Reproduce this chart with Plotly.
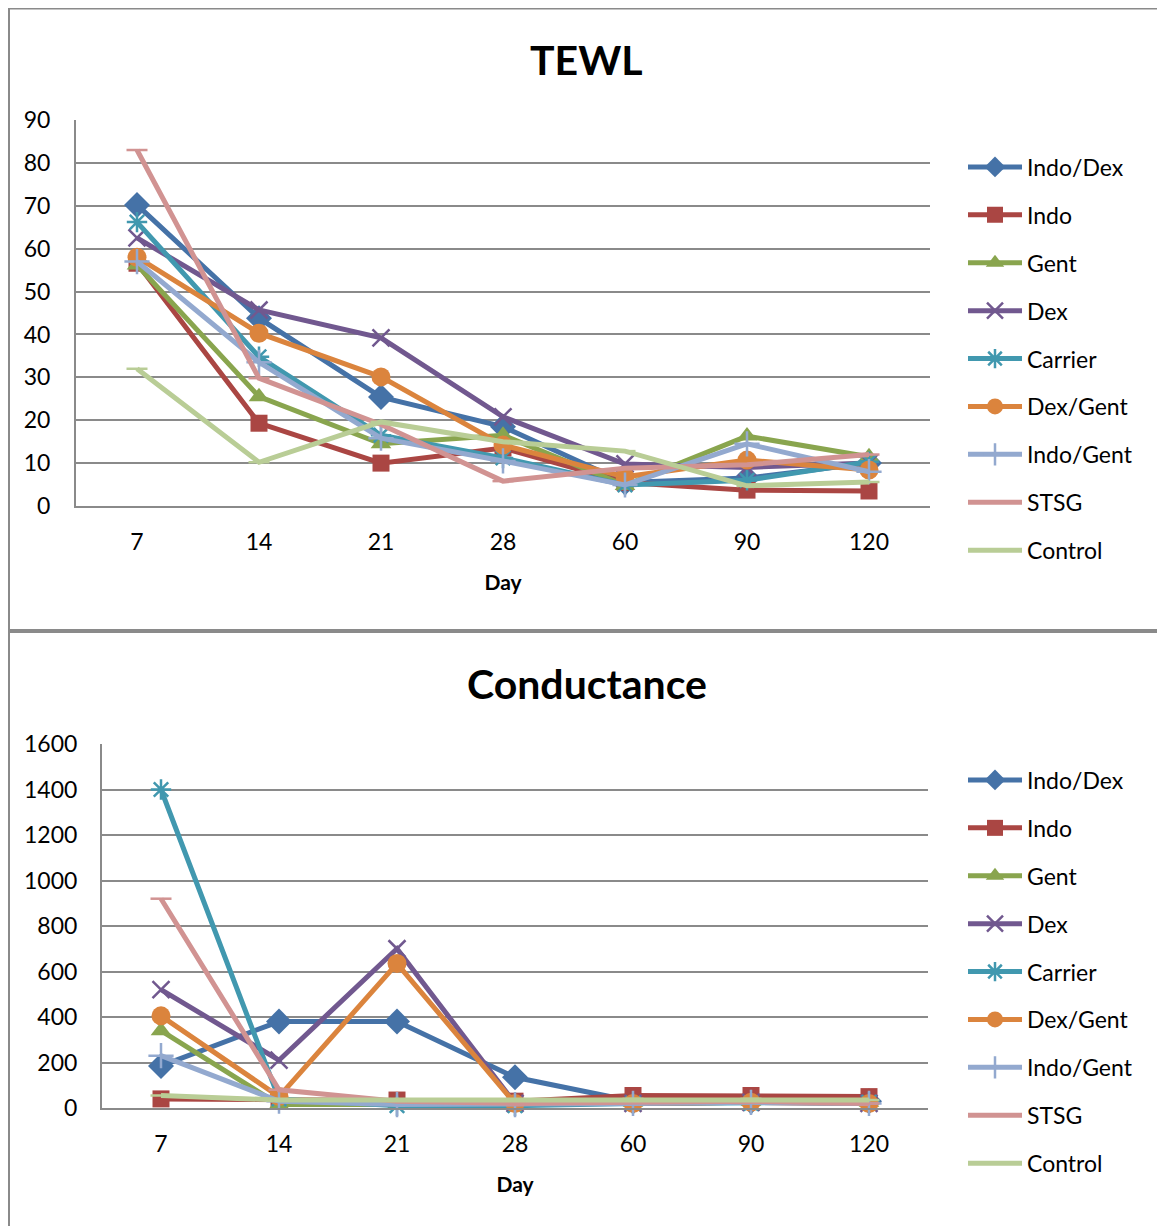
import plotly.graph_objects as go

days = ["7", "14", "21", "28", "60", "90", "120"]
series_names = ["Indo/Dex", "Indo", "Gent", "Dex", "Carrier", "Dex/Gent", "Indo/Gent", "STSG", "Control"]

# TEWL values
tewl_indo_dex = [70.2, 43.8, 25.4, 18.5, 5.5, 6.5, 10.0]
tewl_indo = [56.6, 19.3, 10.0, 13.5, 5.5, 3.7, 3.5]
tewl_gent = [56.2, 25.5, 14.5, 16.5, 4.8, 16.3, 11.5]
tewl_dex = [62.5, 45.7, 39.2, 20.8, 9.8, 9.0, 10.0]
tewl_carrier = [66.2, 34.8, 16.5, 11.2, 4.9, 6.0, 10.3]
tewl_dex_gent = [58.0, 40.3, 30.1, 14.2, 6.8, 10.7, 8.4]
tewl_indo_gent = [57.0, 33.5, 15.8, 10.5, 4.9, 14.5, 8.0]
tewl_stsg = [83.0, 29.8, 19.0, 5.8, 8.8, 9.6, 12.0]
tewl_control = [32.0, 10.2, 19.6, 15.0, 12.8, 4.7, 5.6]

# Conductance values
cond_indo_dex = [185, 380, 380, 135, 30, 30, 30]
cond_indo = [40, 35, 35, 30, 55, 55, 50]
cond_gent = [340, 15, 15, 20, 25, 30, 25]
cond_dex = [520, 210, 700, 20, 20, 25, 20]
cond_carrier = [1400, 40, 10, 10, 20, 20, 25]
cond_dex_gent = [405, 50, 635, 20, 20, 25, 20]
cond_indo_gent = [230, 30, 15, 15, 20, 25, 20]
cond_stsg = [920, 80, 30, 20, 25, 30, 20]
cond_control = [55, 35, 35, 35, 40, 40, 35]

tewl_values = [tewl_indo_dex, tewl_indo, tewl_gent, tewl_dex, tewl_carrier,
               tewl_dex_gent, tewl_indo_gent, tewl_stsg, tewl_control]
cond_values = [cond_indo_dex, cond_indo, cond_gent, cond_dex, cond_carrier,
               cond_dex_gent, cond_indo_gent, cond_stsg, cond_control]

colors = ["#4572A7", "#AA4643", "#89A54E", "#71588F", "#4198AF",
          "#DB843D", "#93A9CF", "#D19392", "#B9CD96"]
symbols = ["diamond", "square", "triangle-up", "x-thin-open", "asterisk-open",
           "circle", "cross-thin-open", "line-ew-open", "line-ew-open"]
msizes = [20, 17, 18, 17, 17, 19, 18, 15, 15]

# figure sized to fit inside the window with the page's 8px body margin
W, H = 1157, 1218
OFF = 8
FONT = "Lato"


def px(x):
    return (x - OFF) / W


def py(y):
    return 1 - (y - OFF) / H


fig = go.Figure()

for panel, (vals_list, xa, ya, leg) in enumerate([
        (tewl_values, "x", "y", "legend"),
        (cond_values, "x2", "y2", "legend2")]):
    for i, name in enumerate(series_names):
        openm = symbols[i].endswith("-open")
        fig.add_trace(go.Scatter(
            x=days, y=vals_list[i], name=name, mode="lines+markers",
            xaxis=xa, yaxis=ya, legend=leg, legendgroup=f"{panel}-{i}",
            line=dict(color=colors[i], width=5),
            marker=dict(symbol=symbols[i], size=msizes[i], color=colors[i],
                        line=dict(color=colors[i], width=2.5 if openm else 0)),
            cliponaxis=False,
        ))

grid = "#8A8A8A"
tickfont = dict(family=FONT, size=23, color="#000000")

common_x = dict(type="category", range=[-0.5, 6.5], showgrid=False, showline=True,
                linecolor=grid, linewidth=2, ticks="", tickfont=tickfont,
                ticklabelstandoff=14, fixedrange=True,
                title=dict(text="<b>Day</b>", font=dict(family=FONT, size=21, color="#000"), standoff=22))
common_y = dict(showgrid=True, gridcolor=grid, gridwidth=2, showline=True, linecolor=grid,
                linewidth=2, ticks="", tickfont=tickfont, zeroline=False, fixedrange=True)

legend_common = dict(xanchor="left", yanchor="top",
                     font=dict(family=FONT, size=23, color="#000"), itemwidth=54,
                     tracegroupgap=15, bgcolor="rgba(0,0,0,0)", traceorder="grouped")

fig.update_layout(
    width=W, height=H, margin=dict(l=0, r=0, t=0, b=0, autoexpand=False),
    paper_bgcolor="white", plot_bgcolor="white",
    xaxis=dict(common_x, domain=[px(76), px(930)], anchor="y"),
    yaxis=dict(common_y, domain=[py(506), py(120)], anchor="x", range=[0, 90], dtick=10,
               ticklabelstandoff=19),
    xaxis2=dict(common_x, domain=[px(102), px(928)], anchor="y2"),
    yaxis2=dict(common_y, domain=[py(1108), py(744)], anchor="x2", range=[0, 1600], dtick=200,
                ticklabelstandoff=18),
    legend=dict(legend_common, x=px(963), y=py(145.5)),
    legend2=dict(legend_common, x=px(963), y=py(758.5)),
    annotations=[
        dict(text="<b>TEWL</b>", x=px(587), y=py(60), xref="paper", yref="paper",
             xanchor="center", yanchor="middle",
             showarrow=False, font=dict(family=FONT, size=41, color="#000")),
        dict(text="<b>Conductance</b>", x=px(587), y=py(683), xref="paper", yref="paper",
             xanchor="center", yanchor="middle",
             showarrow=False, font=dict(family=FONT, size=41, color="#000")),
    ],
    shapes=[
        dict(type="rect", xref="paper", yref="paper", x0=px(9), x1=px(1190), y0=py(630), y1=py(8.5),
             line=dict(color=grid, width=2)),
        dict(type="rect", xref="paper", yref="paper", x0=px(9), x1=px(1190), y0=py(1250), y1=py(632),
             line=dict(color=grid, width=2)),
    ],
    showlegend=True,
)

fig.write_html("out.html")
